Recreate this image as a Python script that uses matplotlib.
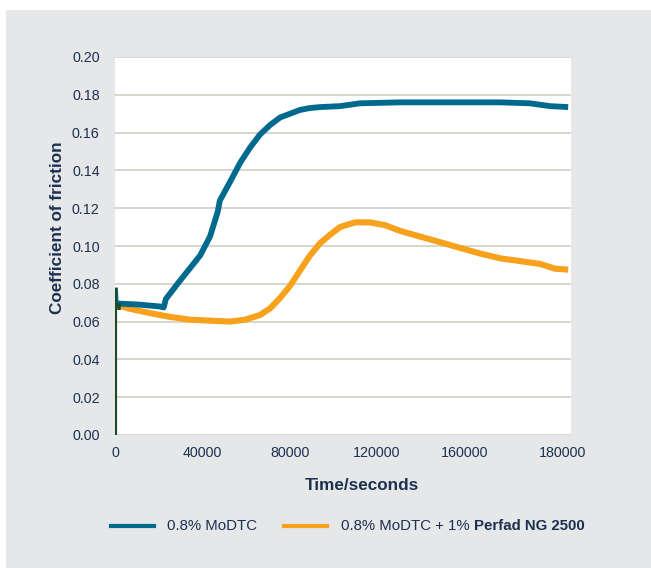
import matplotlib
matplotlib.use("Agg")
import matplotlib.pyplot as plt
from matplotlib.patches import Rectangle
from matplotlib.lines import Line2D

plt.rcParams['font.family'] = ['Liberation Sans', 'DejaVu Sans']

# Time (s) and coefficient of friction, 0.8% MoDTC
t_modtc = [0, 300, 2000, 11000, 20500, 22300, 23300, 30000, 39000, 43500, 47000,
           48000, 52700, 57300, 61800, 66400, 71000, 75600, 80200, 84700, 89300,
           93900, 103000, 112200, 130500, 153400, 176300, 190000, 199200, 207500]
cof_modtc = [0.078, 0.070, 0.0695, 0.069, 0.068, 0.0675, 0.072, 0.082, 0.095, 0.105,
             0.118, 0.124, 0.134, 0.144, 0.152, 0.159, 0.164, 0.168, 0.170, 0.172,
             0.173, 0.1735, 0.174, 0.1755, 0.176, 0.176, 0.176, 0.1755, 0.174, 0.1735]

# Time (s) and coefficient of friction, 0.8% MoDTC + 1% Perfad NG 2500
t_perfad = [900, 5900, 16000, 25200, 34400, 43500, 52700, 59500, 66400, 71000,
            75600, 80200, 84700, 89300, 93900, 98500, 103000, 109900, 116800, 123700,
            130500, 139700, 148900, 158000, 167200, 176300, 185500, 194700, 201500, 207500]
cof_perfad = [0.069, 0.067, 0.0645, 0.0625, 0.061, 0.0605, 0.060, 0.061, 0.0635, 0.067,
              0.0725, 0.079, 0.087, 0.095, 0.1015, 0.106, 0.110, 0.1125, 0.1125, 0.111,
              0.108, 0.105, 0.102, 0.099, 0.096, 0.0935, 0.092, 0.0905, 0.088, 0.0875]

# Start-up trace at t = 0
t_start = [0, 0]
cof_start = [0.0, 0.078]
t_start2 = [1800, 1800]
cof_start2 = [0.066, 0.070]

x_ticks = [0, 40000, 80000, 120000, 160000, 204800]
x_tick_labels = ["0", "40000", "80000", "120000", "160000", "180000"]
y_ticks = [0.00, 0.02, 0.04, 0.06, 0.08, 0.10, 0.12, 0.14, 0.16, 0.18, 0.20]

W, H = 651, 568
fig = plt.figure(figsize=(W / 100, H / 100), dpi=100)
fig.patch.set_facecolor("white")
fig.add_artist(Rectangle((6 / W, 0), 1 - 6 / W, 1 - 10 / H,
                         transform=fig.transFigure, facecolor="#e6e7e8",
                         edgecolor="none", zorder=0))

ax = fig.add_axes([115 / W, 1 - 435 / H, (571 - 115) / W, (435 - 57) / H])
ax.set_facecolor("white")
ax.set_zorder(1)

blue = "#006a8e"
orange = "#f8a11c"
green = "#1b4b26"
text_col = "#1c3150"

for y in y_ticks:
    ax.axhline(y, color="#d4d3c8", lw=1.3, zorder=1)

ax.plot(t_perfad, cof_perfad, color=orange, lw=4.4, solid_capstyle="butt", zorder=3)
ax.plot(t_modtc, cof_modtc, color=blue, lw=4.2, solid_capstyle="butt", zorder=4)
ax.plot(t_start, cof_start, color=green, lw=3.0, solid_capstyle="butt", zorder=5)
ax.plot(t_start2, cof_start2, color=green, lw=2.6, solid_capstyle="butt", zorder=5)

ax.set_xlim(0, 208800)
ax.set_ylim(0, 0.20)
ax.set_yticks(y_ticks)
ax.set_yticklabels([f"{v:.2f}" for v in y_ticks])
ax.set_xticks(x_ticks)
ax.set_xticklabels(x_tick_labels)
ax.tick_params(axis="both", length=0, labelsize=10.3, colors=text_col)
ax.tick_params(axis="y", pad=11)
ax.tick_params(axis="x", pad=8)
for s in ax.spines.values():
    s.set_visible(False)

fig.text(58 / W, 1 - 228 / H, "Coefficient of friction", rotation=90,
         ha="center", va="center", fontsize=12.3, fontweight="bold", color=text_col)
fig.text(362 / W, 1 - 485 / H, "Time/seconds", ha="center", va="center",
         fontsize=12.3, fontweight="bold", color=text_col)

# Legend
ly = 1 - 526 / H
fig.add_artist(Line2D([111 / W, 154 / W], [ly, ly], color=blue, lw=3,
                      transform=fig.transFigure))
fig.add_artist(Line2D([284 / W, 327 / W], [ly, ly], color=orange, lw=3,
                      transform=fig.transFigure))
fig.text(167 / W, ly, "0.8% MoDTC", ha="left", va="center", fontsize=10.8, color=text_col)
t1 = fig.text(341 / W, ly, "0.8% MoDTC + 1% ", ha="left", va="center",
              fontsize=10.8, color=text_col)
fig.canvas.draw()
bb = t1.get_window_extent(renderer=fig.canvas.get_renderer())
fig.text(bb.x1 / W, ly, "Perfad NG 2500", ha="left", va="center",
         fontsize=10.8, fontweight="bold", color=text_col)

fig.savefig("out.png", dpi=100, facecolor=fig.get_facecolor())
